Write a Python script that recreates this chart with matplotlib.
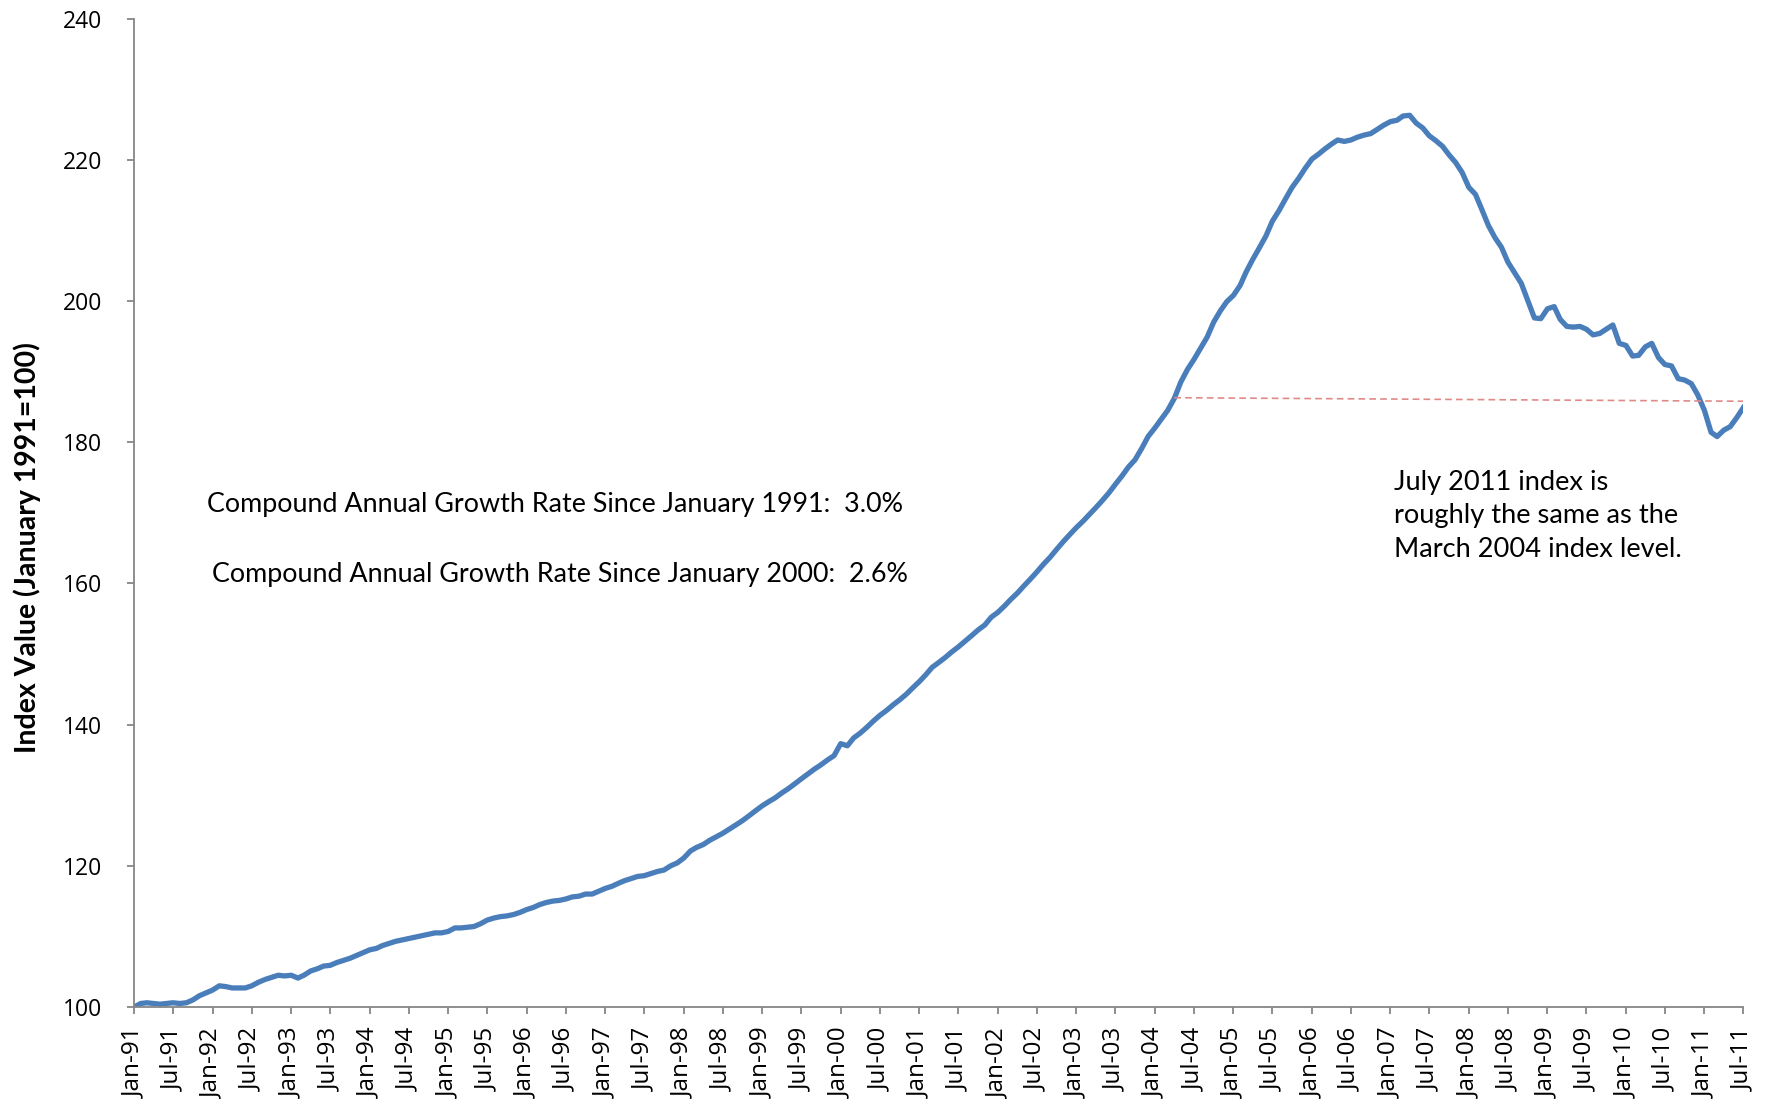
"""
House price index since January 1991, monthly, with CAGR notes
"""
import matplotlib
matplotlib.use("Agg")
import matplotlib.pyplot as plt
import matplotlib.dates as mdates
import pandas as pd

plt.rcParams["font.family"] = ["Lato", "DejaVu Sans"]

START = "1991-01-01"

# monthly index values, Jan-91 .. Jul-11
idx_1991 = [100.0, 100.5, 100.6, 100.5, 100.4, 100.5, 100.6, 100.5, 100.6, 101.0, 101.6, 102.0]
idx_1992 = [102.4, 103.0, 102.9, 102.7, 102.7, 102.7, 103.0, 103.5, 103.9, 104.2, 104.5, 104.4]
idx_1993 = [104.5, 104.1, 104.5, 105.1, 105.4, 105.8, 105.9, 106.3, 106.6, 106.9, 107.3, 107.7]
idx_1994 = [108.1, 108.3, 108.7, 109.0, 109.3, 109.5, 109.7, 109.9, 110.1, 110.3, 110.5, 110.5]
idx_1995 = [110.7, 111.2, 111.2, 111.3, 111.4, 111.8, 112.3, 112.6, 112.8, 112.9, 113.1, 113.4]
idx_1996 = [113.8, 114.1, 114.5, 114.8, 115.0, 115.1, 115.3, 115.6, 115.7, 116.0, 116.0, 116.4]
idx_1997 = [116.8, 117.1, 117.5, 117.9, 118.2, 118.5, 118.6, 118.9, 119.2, 119.4, 120.0, 120.4]
idx_1998 = [121.1, 122.1, 122.6, 123.0, 123.6, 124.1, 124.6, 125.2, 125.8, 126.4, 127.1, 127.8]
idx_1999 = [128.5, 129.1, 129.6, 130.3, 130.9, 131.6, 132.3, 133.0, 133.7, 134.3, 135.0, 135.6]
idx_2000 = [137.3, 137.0, 138.1, 138.8, 139.6, 140.5, 141.3, 142.0, 142.8, 143.5, 144.3, 145.2]
idx_2001 = [146.1, 147.1, 148.1, 148.8, 149.5, 150.3, 151.0, 151.8, 152.6, 153.4, 154.1, 155.2]
idx_2002 = [155.9, 156.8, 157.7, 158.6, 159.6, 160.6, 161.6, 162.7, 163.7, 164.8, 165.9, 166.9]
idx_2003 = [167.9, 168.8, 169.7, 170.7, 171.7, 172.8, 174.0, 175.2, 176.5, 177.5, 179.1, 180.8]
idx_2004 = [182.0, 183.3, 184.5, 186.2, 188.5, 190.3, 191.7, 193.3, 194.9, 197.0, 198.6, 199.9]
idx_2005 = [200.8, 202.2, 204.1, 205.9, 207.5, 209.2, 211.3, 212.8, 214.5, 216.1, 217.4, 218.8]
idx_2006 = [220.1, 220.8, 221.5, 222.2, 222.8, 222.6, 222.8, 223.2, 223.5, 223.7, 224.3, 224.9]
idx_2007 = [225.4, 225.6, 226.2, 226.3, 225.2, 224.5, 223.4, 222.7, 221.9, 220.7, 219.6, 218.2]
idx_2008 = [216.1, 215.1, 213.0, 210.7, 209.0, 207.6, 205.5, 204.0, 202.5, 200.1, 197.6, 197.5]
idx_2009 = [198.9, 199.2, 197.4, 196.4, 196.3, 196.4, 196.0, 195.2, 195.4, 196.0, 196.6, 194.0]
idx_2010 = [193.7, 192.2, 192.3, 193.5, 194.0, 192.0, 191.0, 190.8, 189.0, 188.8, 188.3, 186.7]
idx_2011 = [184.5, 181.4, 180.8, 181.7, 182.2, 183.5, 184.9]

index_values = (idx_1991 + idx_1992 + idx_1993 + idx_1994 + idx_1995 + idx_1996 + idx_1997
                + idx_1998 + idx_1999 + idx_2000 + idx_2001 + idx_2002 + idx_2003 + idx_2004
                + idx_2005 + idx_2006 + idx_2007 + idx_2008 + idx_2009 + idx_2010 + idx_2011)

# reference line: Mar/Apr-04 level carried over to Jul-11
ref_dates = ["2004-04-01", "2011-07-01"]
ref_values = [186.3, 185.8]

y_ticks = [100, 120, 140, 160, 180, 200, 220, 240]

cagr_1991 = "Compound Annual Growth Rate Since January 1991:  3.0%"
cagr_2000 = "Compound Annual Growth Rate Since January 2000:  2.6%"
note = "July 2011 index is\nroughly the same as the\nMarch 2004 index level."

AXIS_GREY = "#868686"
LINE_BLUE = "#4a7ebb"


def main():
    dates = pd.date_range(START, periods=len(index_values), freq="MS")

    fig = plt.figure(figsize=(17.67, 10.99), dpi=100)
    ax = fig.add_axes([0.0759, 0.0837, 0.9107, 0.8994])

    ax.plot(dates, index_values, color=LINE_BLUE, lw=3.8, solid_joinstyle="round")
    ax.plot(pd.to_datetime(ref_dates), ref_values, color="#e08a88", lw=1.2,
            dashes=(4, 2.5))

    ax.set_xlim(dates[0], dates[-1])
    ax.set_ylim(100, 240)
    ax.set_yticks(y_ticks)

    ax.xaxis.set_major_locator(mdates.MonthLocator(bymonth=[1, 7]))
    ax.xaxis.set_major_formatter(mdates.DateFormatter("%b-%y"))

    for side in ["top", "right"]:
        ax.spines[side].set_visible(False)
    for side in ["left", "bottom"]:
        ax.spines[side].set_color(AXIS_GREY)
        ax.spines[side].set_linewidth(1.3)

    ax.tick_params(axis="both", colors=AXIS_GREY, length=5, width=1.3,
                   labelcolor="black", labelfontfamily="Open Sans")
    ax.tick_params(axis="y", pad=18, labelsize=16.5)
    ax.tick_params(axis="x", pad=10, labelsize=17.5, labelrotation=90)

    ax.set_ylabel("Index Value (January 1991=100)", fontsize=20.5, fontweight="bold")
    ax.yaxis.set_label_coords(-0.058, 0.465)

    ax.text(0.0455, 0.508, cagr_1991, transform=ax.transAxes, fontsize=19.4, va="center")
    ax.text(0.0483, 0.438, cagr_2000, transform=ax.transAxes, fontsize=19.4, va="center")
    ax.text(0.783, 0.497, note, transform=ax.transAxes, fontsize=19.6, va="center",
            linespacing=1.42)

    fig.savefig("out.png", dpi=100)


if __name__ == "__main__":
    main()
